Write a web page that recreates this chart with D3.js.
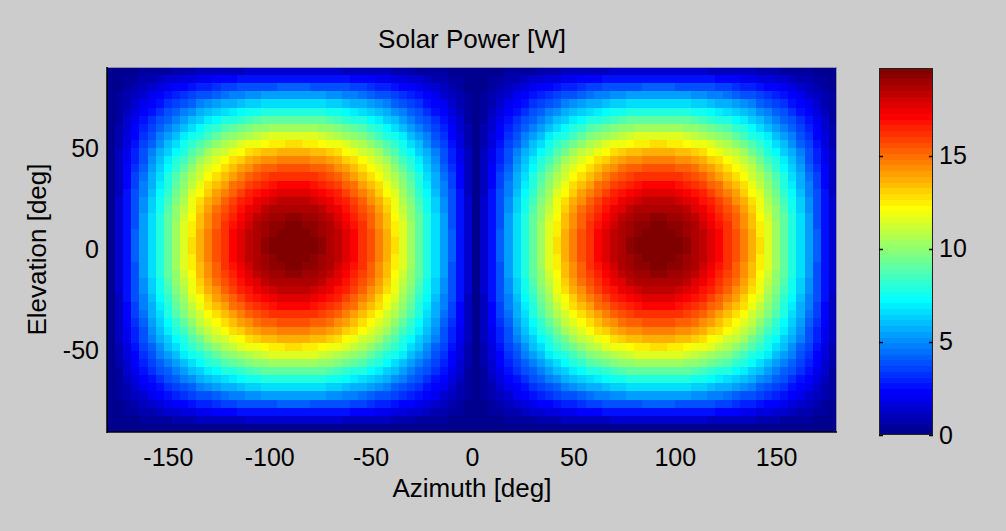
<!DOCTYPE html>
<html>
<head>
<meta charset="utf-8">
<script src="https://cdn.jsdelivr.net/npm/d3@7"></script>
<style>
  html, body { margin: 0; padding: 0; background: #cccccc; }
  svg { display: block; }
  text { font-family: "Liberation Sans", Arial, Helvetica, sans-serif; fill: #000; }
</style>
</head>
<body>
<svg id="chart" width="1006" height="531"></svg>
<script>
// ---- labels -------------------------------------------------------------
const chartTitle = "Solar Power [W]";
const xLabel = "Azimuth [deg]";
const yLabel = "Elevation [deg]";

// ---- grid nodes (lower-left corner of every cell, degrees) -------------
const azimuthDeg = [-180,-176,-172,-168,-164,-160,-156,-152,-148,-144,-140,-136,-132,-128,-124,-120,-116,-112,-108,-104,-100,-96,-92,-88,-84,-80,-76,-72,-68,-64,-60,-56,-52,-48,-44,-40,-36,-32,-28,-24,-20,-16,-12,-8,-4,0,4,8,12,16,20,24,28,32,36,40,44,48,52,56,60,64,68,72,76,80,84,88,92,96,100,104,108,112,116,120,124,128,132,136,140,144,148,152,156,160,164,168,172,176];
const elevationDeg = [-90,-86,-82,-78,-74,-70,-66,-62,-58,-54,-50,-46,-42,-38,-34,-30,-26,-22,-18,-14,-10,-6,-2,2,6,10,14,18,22,26,30,34,38,42,46,50,54,58,62,66,70,74,78,82,86];

// ---- tick values -------------------------------------------------------
const azimuthTicks = [-150, -100, -50, 0, 50, 100, 150];
const elevationTicks = [-50, 0, 50];
const colorbarTicks = [0, 5, 10, 15];

// ---- solar power [W]; one row per elevation band, bottom (-90) to top (86)
const solarPower = [
[0,0,0,0,0,0,0,0,0,0,0,0,0,0,0,0,0,0,0,0,0,0,0,0,0,0,0,0,0,0,0,0,0,0,0,0,0,0,0,0,0,0,0,0,0,0,0,0,0,0,0,0,0,0,0,0,0,0,0,0,0,0,0,0,0,0,0,0,0,0,0,0,0,0,0,0,0,0,0,0,0,0,0,0,0,0,0,0,0,0],
[0,0.1,0.2,0.3,0.4,0.5,0.6,0.6,0.7,0.8,0.9,1,1,1.1,1.1,1.2,1.2,1.3,1.3,1.3,1.4,1.4,1.4,1.4,1.4,1.4,1.3,1.3,1.3,1.2,1.2,1.1,1.1,1,1,0.9,0.8,0.7,0.6,0.6,0.5,0.4,0.3,0.2,0.1,0,0.1,0.2,0.3,0.4,0.5,0.6,0.6,0.7,0.8,0.9,1,1,1.1,1.1,1.2,1.2,1.3,1.3,1.3,1.4,1.4,1.4,1.4,1.4,1.4,1.3,1.3,1.3,1.2,1.2,1.1,1.1,1,1,0.9,0.8,0.7,0.6,0.6,0.5,0.4,0.3,0.2,0.1],
[0,0.2,0.4,0.6,0.8,0.9,1.1,1.3,1.5,1.6,1.8,1.9,2,2.2,2.3,2.4,2.5,2.5,2.6,2.7,2.7,2.7,2.7,2.7,2.7,2.7,2.7,2.6,2.5,2.5,2.4,2.3,2.2,2,1.9,1.8,1.6,1.5,1.3,1.1,0.9,0.8,0.6,0.4,0.2,0,0.2,0.4,0.6,0.8,0.9,1.1,1.3,1.5,1.6,1.8,1.9,2,2.2,2.3,2.4,2.5,2.5,2.6,2.7,2.7,2.7,2.7,2.7,2.7,2.7,2.7,2.6,2.5,2.5,2.4,2.3,2.2,2,1.9,1.8,1.6,1.5,1.3,1.1,0.9,0.8,0.6,0.4,0.2],
[0,0.3,0.6,0.9,1.1,1.4,1.7,1.9,2.2,2.4,2.6,2.8,3,3.2,3.4,3.5,3.7,3.8,3.9,4,4,4.1,4.1,4.1,4.1,4,4,3.9,3.8,3.7,3.5,3.4,3.2,3,2.8,2.6,2.4,2.2,1.9,1.7,1.4,1.1,0.9,0.6,0.3,0,0.3,0.6,0.9,1.1,1.4,1.7,1.9,2.2,2.4,2.6,2.8,3,3.2,3.4,3.5,3.7,3.8,3.9,4,4,4.1,4.1,4.1,4.1,4,4,3.9,3.8,3.7,3.5,3.4,3.2,3,2.8,2.6,2.4,2.2,1.9,1.7,1.4,1.1,0.9,0.6,0.3],
[0,0.4,0.8,1.1,1.5,1.9,2.2,2.5,2.9,3.2,3.5,3.8,4,4.3,4.5,4.7,4.9,5,5.2,5.3,5.3,5.4,5.4,5.4,5.4,5.3,5.3,5.2,5,4.9,4.7,4.5,4.3,4,3.8,3.5,3.2,2.9,2.5,2.2,1.9,1.5,1.1,0.8,0.4,0,0.4,0.8,1.1,1.5,1.9,2.2,2.5,2.9,3.2,3.5,3.8,4,4.3,4.5,4.7,4.9,5,5.2,5.3,5.3,5.4,5.4,5.4,5.4,5.3,5.3,5.2,5,4.9,4.7,4.5,4.3,4,3.8,3.5,3.2,2.9,2.5,2.2,1.9,1.5,1.1,0.8,0.4],
[0,0.5,0.9,1.4,1.9,2.3,2.7,3.2,3.6,4,4.3,4.7,5,5.3,5.6,5.8,6.1,6.2,6.4,6.5,6.6,6.7,6.7,6.7,6.7,6.6,6.5,6.4,6.2,6.1,5.8,5.6,5.3,5,4.7,4.3,4,3.6,3.2,2.7,2.3,1.9,1.4,0.9,0.5,0,0.5,0.9,1.4,1.9,2.3,2.7,3.2,3.6,4,4.3,4.7,5,5.3,5.6,5.8,6.1,6.2,6.4,6.5,6.6,6.7,6.7,6.7,6.7,6.6,6.5,6.4,6.2,6.1,5.8,5.6,5.3,5,4.7,4.3,4,3.6,3.2,2.7,2.3,1.9,1.4,0.9,0.5],
[0,0.6,1.1,1.7,2.2,2.7,3.3,3.8,4.2,4.7,5.2,5.6,6,6.3,6.6,6.9,7.2,7.4,7.6,7.8,7.9,8,8,8,8,7.9,7.8,7.6,7.4,7.2,6.9,6.6,6.3,6,5.6,5.2,4.7,4.2,3.8,3.3,2.7,2.2,1.7,1.1,0.6,0,0.6,1.1,1.7,2.2,2.7,3.3,3.8,4.2,4.7,5.2,5.6,6,6.3,6.6,6.9,7.2,7.4,7.6,7.8,7.9,8,8,8,8,7.9,7.8,7.6,7.4,7.2,6.9,6.6,6.3,6,5.6,5.2,4.7,4.2,3.8,3.3,2.7,2.2,1.7,1.1,0.6],
[0,0.6,1.3,1.9,2.5,3.2,3.8,4.3,4.9,5.4,5.9,6.4,6.9,7.3,7.7,8,8.3,8.6,8.8,9,9.1,9.2,9.2,9.2,9.2,9.1,9,8.8,8.6,8.3,8,7.7,7.3,6.9,6.4,5.9,5.4,4.9,4.3,3.8,3.2,2.5,1.9,1.3,0.6,0,0.6,1.3,1.9,2.5,3.2,3.8,4.3,4.9,5.4,5.9,6.4,6.9,7.3,7.7,8,8.3,8.6,8.8,9,9.1,9.2,9.2,9.2,9.2,9.1,9,8.8,8.6,8.3,8,7.7,7.3,6.9,6.4,5.9,5.4,4.9,4.3,3.8,3.2,2.5,1.9,1.3,0.6],
[0,0.7,1.5,2.2,2.9,3.6,4.2,4.9,5.5,6.1,6.7,7.3,7.8,8.2,8.7,9,9.4,9.7,9.9,10.1,10.3,10.4,10.4,10.4,10.4,10.3,10.1,9.9,9.7,9.4,9,8.7,8.2,7.8,7.3,6.7,6.1,5.5,4.9,4.2,3.6,2.9,2.2,1.5,0.7,0,0.7,1.5,2.2,2.9,3.6,4.2,4.9,5.5,6.1,6.7,7.3,7.8,8.2,8.7,9,9.4,9.7,9.9,10.1,10.3,10.4,10.4,10.4,10.4,10.3,10.1,9.9,9.7,9.4,9,8.7,8.2,7.8,7.3,6.7,6.1,5.5,4.9,4.2,3.6,2.9,2.2,1.5,0.7],
[0,0.8,1.6,2.4,3.2,4,4.7,5.4,6.1,6.8,7.4,8,8.6,9.1,9.6,10,10.4,10.7,11,11.2,11.4,11.5,11.6,11.6,11.5,11.4,11.2,11,10.7,10.4,10,9.6,9.1,8.6,8,7.4,6.8,6.1,5.4,4.7,4,3.2,2.4,1.6,0.8,0,0.8,1.6,2.4,3.2,4,4.7,5.4,6.1,6.8,7.4,8,8.6,9.1,9.6,10,10.4,10.7,11,11.2,11.4,11.5,11.6,11.6,11.5,11.4,11.2,11,10.7,10.4,10,9.6,9.1,8.6,8,7.4,6.8,6.1,5.4,4.7,4,3.2,2.4,1.6,0.8],
[0,0.9,1.8,2.6,3.5,4.3,5.2,5.9,6.7,7.4,8.1,8.8,9.4,10,10.5,11,11.4,11.7,12,12.3,12.5,12.6,12.7,12.7,12.6,12.5,12.3,12,11.7,11.4,11,10.5,10,9.4,8.8,8.1,7.4,6.7,5.9,5.2,4.3,3.5,2.6,1.8,0.9,0,0.9,1.8,2.6,3.5,4.3,5.2,5.9,6.7,7.4,8.1,8.8,9.4,10,10.5,11,11.4,11.7,12,12.3,12.5,12.6,12.7,12.7,12.6,12.5,12.3,12,11.7,11.4,11,10.5,10,9.4,8.8,8.1,7.4,6.7,5.9,5.2,4.3,3.5,2.6,1.8,0.9],
[0,1,1.9,2.8,3.8,4.7,5.6,6.4,7.3,8,8.8,9.5,10.2,10.8,11.3,11.9,12.3,12.7,13,13.3,13.5,13.6,13.7,13.7,13.6,13.5,13.3,13,12.7,12.3,11.9,11.3,10.8,10.2,9.5,8.8,8,7.3,6.4,5.6,4.7,3.8,2.8,1.9,1,0,1,1.9,2.8,3.8,4.7,5.6,6.4,7.3,8,8.8,9.5,10.2,10.8,11.3,11.9,12.3,12.7,13,13.3,13.5,13.6,13.7,13.7,13.6,13.5,13.3,13,12.7,12.3,11.9,11.3,10.8,10.2,9.5,8.8,8,7.3,6.4,5.6,4.7,3.8,2.8,1.9,1],
[0,1,2,3,4,5,6,6.9,7.8,8.6,9.4,10.2,10.9,11.5,12.1,12.7,13.2,13.6,13.9,14.2,14.4,14.6,14.6,14.6,14.6,14.4,14.2,13.9,13.6,13.2,12.7,12.1,11.5,10.9,10.2,9.4,8.6,7.8,6.9,6,5,4,3,2,1,0,1,2,3,4,5,6,6.9,7.8,8.6,9.4,10.2,10.9,11.5,12.1,12.7,13.2,13.6,13.9,14.2,14.4,14.6,14.6,14.6,14.6,14.4,14.2,13.9,13.6,13.2,12.7,12.1,11.5,10.9,10.2,9.4,8.6,7.8,6.9,6,5,4,3,2,1],
[0,1.1,2.2,3.2,4.3,5.3,6.3,7.3,8.2,9.1,10,10.8,11.5,12.2,12.9,13.4,14,14.4,14.8,15.1,15.3,15.4,15.5,15.5,15.4,15.3,15.1,14.8,14.4,14,13.4,12.9,12.2,11.5,10.8,10,9.1,8.2,7.3,6.3,5.3,4.3,3.2,2.2,1.1,0,1.1,2.2,3.2,4.3,5.3,6.3,7.3,8.2,9.1,10,10.8,11.5,12.2,12.9,13.4,14,14.4,14.8,15.1,15.3,15.4,15.5,15.5,15.4,15.3,15.1,14.8,14.4,14,13.4,12.9,12.2,11.5,10.8,10,9.1,8.2,7.3,6.3,5.3,4.3,3.2,2.2,1.1],
[0,1.1,2.3,3.4,4.5,5.6,6.6,7.7,8.7,9.6,10.5,11.3,12.1,12.9,13.5,14.1,14.7,15.1,15.5,15.8,16.1,16.2,16.3,16.3,16.2,16.1,15.8,15.5,15.1,14.7,14.1,13.5,12.9,12.1,11.3,10.5,9.6,8.7,7.7,6.6,5.6,4.5,3.4,2.3,1.1,0,1.1,2.3,3.4,4.5,5.6,6.6,7.7,8.7,9.6,10.5,11.3,12.1,12.9,13.5,14.1,14.7,15.1,15.5,15.8,16.1,16.2,16.3,16.3,16.2,16.1,15.8,15.5,15.1,14.7,14.1,13.5,12.9,12.1,11.3,10.5,9.6,8.7,7.7,6.6,5.6,4.5,3.4,2.3,1.1],
[0,1.2,2.4,3.5,4.7,5.8,6.9,8,9,10,11,11.9,12.7,13.4,14.1,14.8,15.3,15.8,16.2,16.6,16.8,17,17.1,17.1,17,16.8,16.6,16.2,15.8,15.3,14.8,14.1,13.4,12.7,11.9,11,10,9,8,6.9,5.8,4.7,3.5,2.4,1.2,0,1.2,2.4,3.5,4.7,5.8,6.9,8,9,10,11,11.9,12.7,13.4,14.1,14.8,15.3,15.8,16.2,16.6,16.8,17,17.1,17.1,17,16.8,16.6,16.2,15.8,15.3,14.8,14.1,13.4,12.7,11.9,11,10,9,8,6.9,5.8,4.7,3.5,2.4,1.2],
[0,1.2,2.5,3.7,4.9,6.1,7.2,8.3,9.4,10.4,11.4,12.3,13.2,14,14.7,15.3,15.9,16.4,16.8,17.2,17.4,17.6,17.7,17.7,17.6,17.4,17.2,16.8,16.4,15.9,15.3,14.7,14,13.2,12.3,11.4,10.4,9.4,8.3,7.2,6.1,4.9,3.7,2.5,1.2,0,1.2,2.5,3.7,4.9,6.1,7.2,8.3,9.4,10.4,11.4,12.3,13.2,14,14.7,15.3,15.9,16.4,16.8,17.2,17.4,17.6,17.7,17.7,17.6,17.4,17.2,16.8,16.4,15.9,15.3,14.7,14,13.2,12.3,11.4,10.4,9.4,8.3,7.2,6.1,4.9,3.7,2.5,1.2],
[0,1.3,2.5,3.8,5,6.2,7.4,8.6,9.7,10.7,11.7,12.7,13.6,14.4,15.1,15.8,16.4,16.9,17.4,17.7,18,18.2,18.3,18.3,18.2,18,17.7,17.4,16.9,16.4,15.8,15.1,14.4,13.6,12.7,11.7,10.7,9.7,8.6,7.4,6.2,5,3.8,2.5,1.3,0,1.3,2.5,3.8,5,6.2,7.4,8.6,9.7,10.7,11.7,12.7,13.6,14.4,15.1,15.8,16.4,16.9,17.4,17.7,18,18.2,18.3,18.3,18.2,18,17.7,17.4,16.9,16.4,15.8,15.1,14.4,13.6,12.7,11.7,10.7,9.7,8.6,7.4,6.2,5,3.8,2.5,1.3],
[0,1.3,2.6,3.9,5.2,6.4,7.6,8.8,9.9,11,12,13,13.9,14.8,15.5,16.2,16.8,17.4,17.8,18.2,18.5,18.6,18.7,18.7,18.6,18.5,18.2,17.8,17.4,16.8,16.2,15.5,14.8,13.9,13,12,11,9.9,8.8,7.6,6.4,5.2,3.9,2.6,1.3,0,1.3,2.6,3.9,5.2,6.4,7.6,8.8,9.9,11,12,13,13.9,14.8,15.5,16.2,16.8,17.4,17.8,18.2,18.5,18.6,18.7,18.7,18.6,18.5,18.2,17.8,17.4,16.8,16.2,15.5,14.8,13.9,13,12,11,9.9,8.8,7.6,6.4,5.2,3.9,2.6,1.3],
[0,1.3,2.7,4,5.3,6.5,7.8,9,10.1,11.2,12.3,13.3,14.2,15.1,15.8,16.6,17.2,17.7,18.2,18.5,18.8,19,19.1,19.1,19,18.8,18.5,18.2,17.7,17.2,16.6,15.8,15.1,14.2,13.3,12.3,11.2,10.1,9,7.8,6.5,5.3,4,2.7,1.3,0,1.3,2.7,4,5.3,6.5,7.8,9,10.1,11.2,12.3,13.3,14.2,15.1,15.8,16.6,17.2,17.7,18.2,18.5,18.8,19,19.1,19.1,19,18.8,18.5,18.2,17.7,17.2,16.6,15.8,15.1,14.2,13.3,12.3,11.2,10.1,9,7.8,6.5,5.3,4,2.7,1.3],
[0,1.4,2.7,4,5.3,6.6,7.9,9.1,10.3,11.4,12.5,13.5,14.4,15.3,16.1,16.8,17.4,18,18.5,18.8,19.1,19.3,19.4,19.4,19.3,19.1,18.8,18.5,18,17.4,16.8,16.1,15.3,14.4,13.5,12.5,11.4,10.3,9.1,7.9,6.6,5.3,4,2.7,1.4,0,1.4,2.7,4,5.3,6.6,7.9,9.1,10.3,11.4,12.5,13.5,14.4,15.3,16.1,16.8,17.4,18,18.5,18.8,19.1,19.3,19.4,19.4,19.3,19.1,18.8,18.5,18,17.4,16.8,16.1,15.3,14.4,13.5,12.5,11.4,10.3,9.1,7.9,6.6,5.3,4,2.7,1.4],
[0,1.4,2.7,4.1,5.4,6.7,8,9.2,10.4,11.5,12.6,13.6,14.6,15.4,16.2,17,17.6,18.2,18.6,19,19.3,19.5,19.6,19.6,19.5,19.3,19,18.6,18.2,17.6,17,16.2,15.4,14.6,13.6,12.6,11.5,10.4,9.2,8,6.7,5.4,4.1,2.7,1.4,0,1.4,2.7,4.1,5.4,6.7,8,9.2,10.4,11.5,12.6,13.6,14.6,15.4,16.2,17,17.6,18.2,18.6,19,19.3,19.5,19.6,19.6,19.5,19.3,19,18.6,18.2,17.6,17,16.2,15.4,14.6,13.6,12.6,11.5,10.4,9.2,8,6.7,5.4,4.1,2.7,1.4],
[0,1.4,2.7,4.1,5.4,6.7,8,9.2,10.4,11.6,12.7,13.7,14.6,15.5,16.3,17.1,17.7,18.3,18.7,19.1,19.4,19.6,19.7,19.7,19.6,19.4,19.1,18.7,18.3,17.7,17.1,16.3,15.5,14.6,13.7,12.7,11.6,10.4,9.2,8,6.7,5.4,4.1,2.7,1.4,0,1.4,2.7,4.1,5.4,6.7,8,9.2,10.4,11.6,12.7,13.7,14.6,15.5,16.3,17.1,17.7,18.3,18.7,19.1,19.4,19.6,19.7,19.7,19.6,19.4,19.1,18.7,18.3,17.7,17.1,16.3,15.5,14.6,13.7,12.7,11.6,10.4,9.2,8,6.7,5.4,4.1,2.7,1.4],
[0,1.4,2.7,4.1,5.4,6.7,8,9.2,10.4,11.6,12.7,13.7,14.6,15.5,16.3,17.1,17.7,18.3,18.7,19.1,19.4,19.6,19.7,19.7,19.6,19.4,19.1,18.7,18.3,17.7,17.1,16.3,15.5,14.6,13.7,12.7,11.6,10.4,9.2,8,6.7,5.4,4.1,2.7,1.4,0,1.4,2.7,4.1,5.4,6.7,8,9.2,10.4,11.6,12.7,13.7,14.6,15.5,16.3,17.1,17.7,18.3,18.7,19.1,19.4,19.6,19.7,19.7,19.6,19.4,19.1,18.7,18.3,17.7,17.1,16.3,15.5,14.6,13.7,12.7,11.6,10.4,9.2,8,6.7,5.4,4.1,2.7,1.4],
[0,1.4,2.7,4.1,5.4,6.7,8,9.2,10.4,11.5,12.6,13.6,14.6,15.4,16.2,17,17.6,18.2,18.6,19,19.3,19.5,19.6,19.6,19.5,19.3,19,18.6,18.2,17.6,17,16.2,15.4,14.6,13.6,12.6,11.5,10.4,9.2,8,6.7,5.4,4.1,2.7,1.4,0,1.4,2.7,4.1,5.4,6.7,8,9.2,10.4,11.5,12.6,13.6,14.6,15.4,16.2,17,17.6,18.2,18.6,19,19.3,19.5,19.6,19.6,19.5,19.3,19,18.6,18.2,17.6,17,16.2,15.4,14.6,13.6,12.6,11.5,10.4,9.2,8,6.7,5.4,4.1,2.7,1.4],
[0,1.4,2.7,4,5.3,6.6,7.9,9.1,10.3,11.4,12.5,13.5,14.4,15.3,16.1,16.8,17.4,18,18.5,18.8,19.1,19.3,19.4,19.4,19.3,19.1,18.8,18.5,18,17.4,16.8,16.1,15.3,14.4,13.5,12.5,11.4,10.3,9.1,7.9,6.6,5.3,4,2.7,1.4,0,1.4,2.7,4,5.3,6.6,7.9,9.1,10.3,11.4,12.5,13.5,14.4,15.3,16.1,16.8,17.4,18,18.5,18.8,19.1,19.3,19.4,19.4,19.3,19.1,18.8,18.5,18,17.4,16.8,16.1,15.3,14.4,13.5,12.5,11.4,10.3,9.1,7.9,6.6,5.3,4,2.7,1.4],
[0,1.3,2.7,4,5.3,6.5,7.8,9,10.1,11.2,12.3,13.3,14.2,15.1,15.8,16.6,17.2,17.7,18.2,18.5,18.8,19,19.1,19.1,19,18.8,18.5,18.2,17.7,17.2,16.6,15.8,15.1,14.2,13.3,12.3,11.2,10.1,9,7.8,6.5,5.3,4,2.7,1.3,0,1.3,2.7,4,5.3,6.5,7.8,9,10.1,11.2,12.3,13.3,14.2,15.1,15.8,16.6,17.2,17.7,18.2,18.5,18.8,19,19.1,19.1,19,18.8,18.5,18.2,17.7,17.2,16.6,15.8,15.1,14.2,13.3,12.3,11.2,10.1,9,7.8,6.5,5.3,4,2.7,1.3],
[0,1.3,2.6,3.9,5.2,6.4,7.6,8.8,9.9,11,12,13,13.9,14.8,15.5,16.2,16.8,17.4,17.8,18.2,18.5,18.6,18.7,18.7,18.6,18.5,18.2,17.8,17.4,16.8,16.2,15.5,14.8,13.9,13,12,11,9.9,8.8,7.6,6.4,5.2,3.9,2.6,1.3,0,1.3,2.6,3.9,5.2,6.4,7.6,8.8,9.9,11,12,13,13.9,14.8,15.5,16.2,16.8,17.4,17.8,18.2,18.5,18.6,18.7,18.7,18.6,18.5,18.2,17.8,17.4,16.8,16.2,15.5,14.8,13.9,13,12,11,9.9,8.8,7.6,6.4,5.2,3.9,2.6,1.3],
[0,1.3,2.5,3.8,5,6.2,7.4,8.6,9.7,10.7,11.7,12.7,13.6,14.4,15.1,15.8,16.4,16.9,17.4,17.7,18,18.2,18.3,18.3,18.2,18,17.7,17.4,16.9,16.4,15.8,15.1,14.4,13.6,12.7,11.7,10.7,9.7,8.6,7.4,6.2,5,3.8,2.5,1.3,0,1.3,2.5,3.8,5,6.2,7.4,8.6,9.7,10.7,11.7,12.7,13.6,14.4,15.1,15.8,16.4,16.9,17.4,17.7,18,18.2,18.3,18.3,18.2,18,17.7,17.4,16.9,16.4,15.8,15.1,14.4,13.6,12.7,11.7,10.7,9.7,8.6,7.4,6.2,5,3.8,2.5,1.3],
[0,1.2,2.5,3.7,4.9,6.1,7.2,8.3,9.4,10.4,11.4,12.3,13.2,14,14.7,15.3,15.9,16.4,16.8,17.2,17.4,17.6,17.7,17.7,17.6,17.4,17.2,16.8,16.4,15.9,15.3,14.7,14,13.2,12.3,11.4,10.4,9.4,8.3,7.2,6.1,4.9,3.7,2.5,1.2,0,1.2,2.5,3.7,4.9,6.1,7.2,8.3,9.4,10.4,11.4,12.3,13.2,14,14.7,15.3,15.9,16.4,16.8,17.2,17.4,17.6,17.7,17.7,17.6,17.4,17.2,16.8,16.4,15.9,15.3,14.7,14,13.2,12.3,11.4,10.4,9.4,8.3,7.2,6.1,4.9,3.7,2.5,1.2],
[0,1.2,2.4,3.5,4.7,5.8,6.9,8,9,10,11,11.9,12.7,13.4,14.1,14.8,15.3,15.8,16.2,16.6,16.8,17,17.1,17.1,17,16.8,16.6,16.2,15.8,15.3,14.8,14.1,13.4,12.7,11.9,11,10,9,8,6.9,5.8,4.7,3.5,2.4,1.2,0,1.2,2.4,3.5,4.7,5.8,6.9,8,9,10,11,11.9,12.7,13.4,14.1,14.8,15.3,15.8,16.2,16.6,16.8,17,17.1,17.1,17,16.8,16.6,16.2,15.8,15.3,14.8,14.1,13.4,12.7,11.9,11,10,9,8,6.9,5.8,4.7,3.5,2.4,1.2],
[0,1.1,2.3,3.4,4.5,5.6,6.6,7.7,8.7,9.6,10.5,11.3,12.1,12.9,13.5,14.1,14.7,15.1,15.5,15.8,16.1,16.2,16.3,16.3,16.2,16.1,15.8,15.5,15.1,14.7,14.1,13.5,12.9,12.1,11.3,10.5,9.6,8.7,7.7,6.6,5.6,4.5,3.4,2.3,1.1,0,1.1,2.3,3.4,4.5,5.6,6.6,7.7,8.7,9.6,10.5,11.3,12.1,12.9,13.5,14.1,14.7,15.1,15.5,15.8,16.1,16.2,16.3,16.3,16.2,16.1,15.8,15.5,15.1,14.7,14.1,13.5,12.9,12.1,11.3,10.5,9.6,8.7,7.7,6.6,5.6,4.5,3.4,2.3,1.1],
[0,1.1,2.2,3.2,4.3,5.3,6.3,7.3,8.2,9.1,10,10.8,11.5,12.2,12.9,13.4,14,14.4,14.8,15.1,15.3,15.4,15.5,15.5,15.4,15.3,15.1,14.8,14.4,14,13.4,12.9,12.2,11.5,10.8,10,9.1,8.2,7.3,6.3,5.3,4.3,3.2,2.2,1.1,0,1.1,2.2,3.2,4.3,5.3,6.3,7.3,8.2,9.1,10,10.8,11.5,12.2,12.9,13.4,14,14.4,14.8,15.1,15.3,15.4,15.5,15.5,15.4,15.3,15.1,14.8,14.4,14,13.4,12.9,12.2,11.5,10.8,10,9.1,8.2,7.3,6.3,5.3,4.3,3.2,2.2,1.1],
[0,1,2,3,4,5,6,6.9,7.8,8.6,9.4,10.2,10.9,11.5,12.1,12.7,13.2,13.6,13.9,14.2,14.4,14.6,14.6,14.6,14.6,14.4,14.2,13.9,13.6,13.2,12.7,12.1,11.5,10.9,10.2,9.4,8.6,7.8,6.9,6,5,4,3,2,1,0,1,2,3,4,5,6,6.9,7.8,8.6,9.4,10.2,10.9,11.5,12.1,12.7,13.2,13.6,13.9,14.2,14.4,14.6,14.6,14.6,14.6,14.4,14.2,13.9,13.6,13.2,12.7,12.1,11.5,10.9,10.2,9.4,8.6,7.8,6.9,6,5,4,3,2,1],
[0,1,1.9,2.8,3.8,4.7,5.6,6.4,7.3,8,8.8,9.5,10.2,10.8,11.3,11.9,12.3,12.7,13,13.3,13.5,13.6,13.7,13.7,13.6,13.5,13.3,13,12.7,12.3,11.9,11.3,10.8,10.2,9.5,8.8,8,7.3,6.4,5.6,4.7,3.8,2.8,1.9,1,0,1,1.9,2.8,3.8,4.7,5.6,6.4,7.3,8,8.8,9.5,10.2,10.8,11.3,11.9,12.3,12.7,13,13.3,13.5,13.6,13.7,13.7,13.6,13.5,13.3,13,12.7,12.3,11.9,11.3,10.8,10.2,9.5,8.8,8,7.3,6.4,5.6,4.7,3.8,2.8,1.9,1],
[0,0.9,1.8,2.6,3.5,4.3,5.2,5.9,6.7,7.4,8.1,8.8,9.4,10,10.5,11,11.4,11.7,12,12.3,12.5,12.6,12.7,12.7,12.6,12.5,12.3,12,11.7,11.4,11,10.5,10,9.4,8.8,8.1,7.4,6.7,5.9,5.2,4.3,3.5,2.6,1.8,0.9,0,0.9,1.8,2.6,3.5,4.3,5.2,5.9,6.7,7.4,8.1,8.8,9.4,10,10.5,11,11.4,11.7,12,12.3,12.5,12.6,12.7,12.7,12.6,12.5,12.3,12,11.7,11.4,11,10.5,10,9.4,8.8,8.1,7.4,6.7,5.9,5.2,4.3,3.5,2.6,1.8,0.9],
[0,0.8,1.6,2.4,3.2,4,4.7,5.4,6.1,6.8,7.4,8,8.6,9.1,9.6,10,10.4,10.7,11,11.2,11.4,11.5,11.6,11.6,11.5,11.4,11.2,11,10.7,10.4,10,9.6,9.1,8.6,8,7.4,6.8,6.1,5.4,4.7,4,3.2,2.4,1.6,0.8,0,0.8,1.6,2.4,3.2,4,4.7,5.4,6.1,6.8,7.4,8,8.6,9.1,9.6,10,10.4,10.7,11,11.2,11.4,11.5,11.6,11.6,11.5,11.4,11.2,11,10.7,10.4,10,9.6,9.1,8.6,8,7.4,6.8,6.1,5.4,4.7,4,3.2,2.4,1.6,0.8],
[0,0.7,1.5,2.2,2.9,3.6,4.2,4.9,5.5,6.1,6.7,7.3,7.8,8.2,8.7,9,9.4,9.7,9.9,10.1,10.3,10.4,10.4,10.4,10.4,10.3,10.1,9.9,9.7,9.4,9,8.7,8.2,7.8,7.3,6.7,6.1,5.5,4.9,4.2,3.6,2.9,2.2,1.5,0.7,0,0.7,1.5,2.2,2.9,3.6,4.2,4.9,5.5,6.1,6.7,7.3,7.8,8.2,8.7,9,9.4,9.7,9.9,10.1,10.3,10.4,10.4,10.4,10.4,10.3,10.1,9.9,9.7,9.4,9,8.7,8.2,7.8,7.3,6.7,6.1,5.5,4.9,4.2,3.6,2.9,2.2,1.5,0.7],
[0,0.6,1.3,1.9,2.5,3.2,3.8,4.3,4.9,5.4,5.9,6.4,6.9,7.3,7.7,8,8.3,8.6,8.8,9,9.1,9.2,9.2,9.2,9.2,9.1,9,8.8,8.6,8.3,8,7.7,7.3,6.9,6.4,5.9,5.4,4.9,4.3,3.8,3.2,2.5,1.9,1.3,0.6,0,0.6,1.3,1.9,2.5,3.2,3.8,4.3,4.9,5.4,5.9,6.4,6.9,7.3,7.7,8,8.3,8.6,8.8,9,9.1,9.2,9.2,9.2,9.2,9.1,9,8.8,8.6,8.3,8,7.7,7.3,6.9,6.4,5.9,5.4,4.9,4.3,3.8,3.2,2.5,1.9,1.3,0.6],
[0,0.6,1.1,1.7,2.2,2.7,3.3,3.8,4.2,4.7,5.2,5.6,6,6.3,6.6,6.9,7.2,7.4,7.6,7.8,7.9,8,8,8,8,7.9,7.8,7.6,7.4,7.2,6.9,6.6,6.3,6,5.6,5.2,4.7,4.2,3.8,3.3,2.7,2.2,1.7,1.1,0.6,0,0.6,1.1,1.7,2.2,2.7,3.3,3.8,4.2,4.7,5.2,5.6,6,6.3,6.6,6.9,7.2,7.4,7.6,7.8,7.9,8,8,8,8,7.9,7.8,7.6,7.4,7.2,6.9,6.6,6.3,6,5.6,5.2,4.7,4.2,3.8,3.3,2.7,2.2,1.7,1.1,0.6],
[0,0.5,0.9,1.4,1.9,2.3,2.7,3.2,3.6,4,4.3,4.7,5,5.3,5.6,5.8,6.1,6.2,6.4,6.5,6.6,6.7,6.7,6.7,6.7,6.6,6.5,6.4,6.2,6.1,5.8,5.6,5.3,5,4.7,4.3,4,3.6,3.2,2.7,2.3,1.9,1.4,0.9,0.5,0,0.5,0.9,1.4,1.9,2.3,2.7,3.2,3.6,4,4.3,4.7,5,5.3,5.6,5.8,6.1,6.2,6.4,6.5,6.6,6.7,6.7,6.7,6.7,6.6,6.5,6.4,6.2,6.1,5.8,5.6,5.3,5,4.7,4.3,4,3.6,3.2,2.7,2.3,1.9,1.4,0.9,0.5],
[0,0.4,0.8,1.1,1.5,1.9,2.2,2.5,2.9,3.2,3.5,3.8,4,4.3,4.5,4.7,4.9,5,5.2,5.3,5.3,5.4,5.4,5.4,5.4,5.3,5.3,5.2,5,4.9,4.7,4.5,4.3,4,3.8,3.5,3.2,2.9,2.5,2.2,1.9,1.5,1.1,0.8,0.4,0,0.4,0.8,1.1,1.5,1.9,2.2,2.5,2.9,3.2,3.5,3.8,4,4.3,4.5,4.7,4.9,5,5.2,5.3,5.3,5.4,5.4,5.4,5.4,5.3,5.3,5.2,5,4.9,4.7,4.5,4.3,4,3.8,3.5,3.2,2.9,2.5,2.2,1.9,1.5,1.1,0.8,0.4],
[0,0.3,0.6,0.9,1.1,1.4,1.7,1.9,2.2,2.4,2.6,2.8,3,3.2,3.4,3.5,3.7,3.8,3.9,4,4,4.1,4.1,4.1,4.1,4,4,3.9,3.8,3.7,3.5,3.4,3.2,3,2.8,2.6,2.4,2.2,1.9,1.7,1.4,1.1,0.9,0.6,0.3,0,0.3,0.6,0.9,1.1,1.4,1.7,1.9,2.2,2.4,2.6,2.8,3,3.2,3.4,3.5,3.7,3.8,3.9,4,4,4.1,4.1,4.1,4.1,4,4,3.9,3.8,3.7,3.5,3.4,3.2,3,2.8,2.6,2.4,2.2,1.9,1.7,1.4,1.1,0.9,0.6,0.3],
[0,0.2,0.4,0.6,0.8,0.9,1.1,1.3,1.5,1.6,1.8,1.9,2,2.2,2.3,2.4,2.5,2.5,2.6,2.7,2.7,2.7,2.7,2.7,2.7,2.7,2.7,2.6,2.5,2.5,2.4,2.3,2.2,2,1.9,1.8,1.6,1.5,1.3,1.1,0.9,0.8,0.6,0.4,0.2,0,0.2,0.4,0.6,0.8,0.9,1.1,1.3,1.5,1.6,1.8,1.9,2,2.2,2.3,2.4,2.5,2.5,2.6,2.7,2.7,2.7,2.7,2.7,2.7,2.7,2.7,2.6,2.5,2.5,2.4,2.3,2.2,2,1.9,1.8,1.6,1.5,1.3,1.1,0.9,0.8,0.6,0.4,0.2],
[0,0.1,0.2,0.3,0.4,0.5,0.6,0.6,0.7,0.8,0.9,1,1,1.1,1.1,1.2,1.2,1.3,1.3,1.3,1.4,1.4,1.4,1.4,1.4,1.4,1.3,1.3,1.3,1.2,1.2,1.1,1.1,1,1,0.9,0.8,0.7,0.6,0.6,0.5,0.4,0.3,0.2,0.1,0,0.1,0.2,0.3,0.4,0.5,0.6,0.6,0.7,0.8,0.9,1,1,1.1,1.1,1.2,1.2,1.3,1.3,1.3,1.4,1.4,1.4,1.4,1.4,1.4,1.3,1.3,1.3,1.2,1.2,1.1,1.1,1,1,0.9,0.8,0.7,0.6,0.6,0.5,0.4,0.3,0.2,0.1]
];

// ---- MATLAB-style "jet" colour map with m entries ------------------------
function jet(m) {
  const n = Math.ceil(m / 4);
  const u = [];
  for (let i = 1; i <= n; i++) u.push(i / n);
  for (let i = 1; i < n; i++) u.push(1);
  for (let i = n; i >= 1; i--) u.push(i / n);
  const g0 = Math.ceil(n / 2) - (m % 4 === 1 ? 1 : 0);
  const R = new Array(m).fill(0), G = new Array(m).fill(0), B = new Array(m).fill(0);
  u.forEach((val, k) => {
    const g = g0 + k + 1, r = g + n, b = g - n;
    if (r >= 1 && r <= m) R[r - 1] = val;
    if (g >= 1 && g <= m) G[g - 1] = val;
    if (b >= 1 && b <= m) B[b - 1] = val;
  });
  return d3.range(m).map(i => d3.rgb(Math.round(R[i] * 255), Math.round(G[i] * 255), Math.round(B[i] * 255)).formatHex());
}

// ---- layout ---------------------------------------------------------------
const svg = d3.select("#chart");
const plot = { left: 107, right: 837, top: 67, bottom: 432 };
const bar = { left: 879, right: 933, top: 68, bottom: 435 };
const fontTick = 25, fontLabel = 26;

const azStep = azimuthDeg[1] - azimuthDeg[0];
const elStep = elevationDeg[1] - elevationDeg[0];

const x = d3.scaleLinear()
  .domain([azimuthDeg[0], azimuthDeg[azimuthDeg.length - 1] + azStep])
  .range([plot.left, plot.right]);
const y = d3.scaleLinear()
  .domain([elevationDeg[0], elevationDeg[elevationDeg.length - 1] + elStep])
  .range([plot.bottom, plot.top]);

const allValues = solarPower.flat();
const pMin = d3.min(allValues), pMax = d3.max(allValues);
const palette = jet(64);
const color = d3.scaleQuantize().domain([pMin, pMax]).range(palette);

// ---- heat map cells -------------------------------------------------------
const cells = [];
solarPower.forEach((row, i) => {
  row.forEach((v, j) => cells.push({ el: elevationDeg[i], az: azimuthDeg[j], v }));
});

svg.append("g")
  .attr("shape-rendering", "crispEdges")
  .selectAll("rect")
  .data(cells)
  .join("rect")
  .attr("x", d => Math.round(x(d.az)))
  .attr("width", d => Math.round(x(d.az + azStep)) - Math.round(x(d.az)))
  .attr("y", d => Math.round(y(d.el + elStep)))
  .attr("height", d => Math.round(y(d.el)) - Math.round(y(d.el + elStep)))
  .attr("fill", d => color(d.v));

// ---- axes -----------------------------------------------------------------
const frame = svg.append("g").attr("fill", "none");
frame.append("line").attr("x1", plot.left + 0.5).attr("x2", plot.right).attr("y1", plot.top + 0.5).attr("y2", plot.top + 0.5)
  .attr("stroke", "#8f8fb0").attr("stroke-width", 1);
frame.append("line").attr("x1", plot.right - 0.5).attr("x2", plot.right - 0.5).attr("y1", plot.top).attr("y2", plot.bottom)
  .attr("stroke", "#8f8fb0").attr("stroke-width", 1);
frame.append("line").attr("x1", plot.left).attr("x2", plot.left).attr("y1", plot.top).attr("y2", plot.bottom + 1)
  .attr("stroke", "#000").attr("stroke-width", 1.5);
frame.append("line").attr("x1", plot.left).attr("x2", plot.right).attr("y1", plot.bottom).attr("y2", plot.bottom)
  .attr("stroke", "#000").attr("stroke-width", 1.5);

const fmt = d => String(d);

const xAxis = svg.append("g")
  .attr("transform", `translate(0,${plot.bottom})`)
  .call(d3.axisBottom(x).tickValues(azimuthTicks).tickSize(0).tickPadding(16).tickFormat(fmt));
const yAxis = svg.append("g")
  .attr("transform", `translate(${plot.left},0)`)
  .call(d3.axisLeft(y).tickValues(elevationTicks).tickSize(0).tickPadding(8).tickFormat(fmt));
[xAxis, yAxis].forEach(a => {
  a.select(".domain").remove();
  a.attr("font-family", null).attr("font-size", fontTick);
  a.selectAll("text").attr("fill", "#000");
});

// ---- title and axis labels ------------------------------------------------
svg.append("text")
  .attr("x", (plot.left + plot.right) / 2).attr("y", 48)
  .attr("text-anchor", "middle").attr("font-size", fontLabel)
  .text(chartTitle);
svg.append("text")
  .attr("x", (plot.left + plot.right) / 2).attr("y", 497)
  .attr("text-anchor", "middle").attr("font-size", fontLabel)
  .text(xLabel);
svg.append("text")
  .attr("transform", `translate(46,${(plot.top + plot.bottom) / 2}) rotate(-90)`)
  .attr("text-anchor", "middle").attr("font-size", fontLabel)
  .text(yLabel);

// ---- colour bar -------------------------------------------------------------
const cbY = d3.scaleLinear().domain([pMin, pMax]).range([bar.bottom, bar.top]);
const bandSize = (pMax - pMin) / palette.length;
svg.append("g")
  .attr("shape-rendering", "crispEdges")
  .selectAll("rect")
  .data(palette)
  .join("rect")
  .attr("x", bar.left)
  .attr("width", bar.right - bar.left)
  .attr("y", (c, k) => Math.round(cbY(pMin + (k + 1) * bandSize)))
  .attr("height", (c, k) => Math.round(cbY(pMin + k * bandSize)) - Math.round(cbY(pMin + (k + 1) * bandSize)))
  .attr("fill", c => c);

svg.append("rect")
  .attr("x", bar.left + 0.5).attr("y", bar.top + 0.5)
  .attr("width", bar.right - bar.left - 1).attr("height", bar.bottom - bar.top - 1)
  .attr("fill", "none").attr("stroke", "#222").attr("stroke-width", 1);

const cbTickMarks = svg.append("g").attr("stroke", "#000").attr("stroke-width", 1.5);
colorbarTicks.forEach(t => {
  const ty = Math.round(cbY(t)) + 0.5;
  cbTickMarks.append("line").attr("x1", bar.left).attr("x2", bar.left + 4).attr("y1", ty).attr("y2", ty);
  cbTickMarks.append("line").attr("x1", bar.right - 4).attr("x2", bar.right).attr("y1", ty).attr("y2", ty);
});

const cbAxis = svg.append("g")
  .attr("transform", `translate(${bar.right},0)`)
  .call(d3.axisRight(cbY).tickValues(colorbarTicks).tickSize(0).tickPadding(6).tickFormat(fmt));
cbAxis.select(".domain").remove();
cbAxis.attr("font-family", null).attr("font-size", fontTick);
cbAxis.selectAll("text").attr("fill", "#000");
</script>
</body>
</html>
